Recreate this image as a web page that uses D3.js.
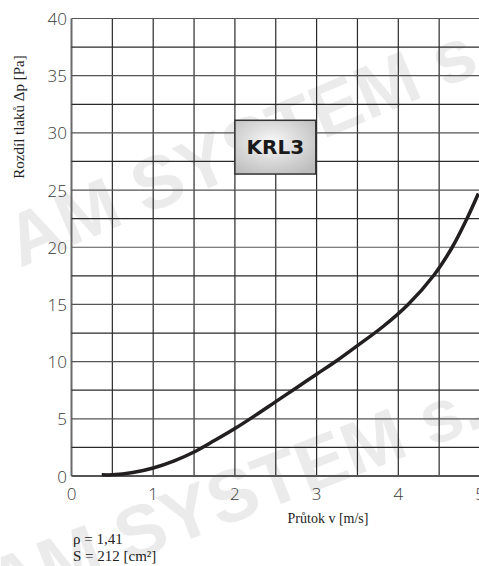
<!DOCTYPE html>
<html>
<head>
<meta charset="utf-8">
<script src="https://cdn.jsdelivr.net/npm/d3@7"></script>
<style>
    html, body { margin: 0; padding: 0; background: #fff; }
    svg { display: block; }
</style>
</head>
<body>
<div id="chart"></div>
<script>
// flow velocity [m/s] and pressure drop [Pa]
var velocity = [0.37, 0.5, 0.75, 1.0, 1.25, 1.5, 1.75, 2.0, 2.25, 2.5, 2.75, 3.0, 3.25, 3.5, 3.81, 4.12, 4.44, 4.66, 4.84, 4.98];
var pressure = [0.1, 0.1, 0.3, 0.7, 1.3, 2.1, 3.1, 4.15, 5.3, 6.5, 7.7, 8.9, 10.1, 11.4, 13.05, 15.0, 17.6, 20.0, 22.5, 24.7];
var xTicks = [0, 1, 2, 3, 4, 5];
var yTicks = [0, 5, 10, 15, 20, 25, 30, 35, 40];
var xGrid = [0, 0.5, 1, 1.5, 2, 2.5, 3, 3.5, 4, 4.5, 5];
var yGrid = [0, 2.5, 5, 7.5, 10, 12.5, 15, 17.5, 20, 22.5, 25, 27.5, 30, 32.5, 35, 37.5, 40];
var productName = 'KRL3';
var notes = ['ρ = 1,41', 'S = 212 [cm²]'];

var width = 479,
    height = 566,
    margin = { left: 71.5, top: 18.5, right: 0, bottom: 90 };

var svg = d3.select('#chart').append('svg')
    .attr('width', width)
    .attr('height', height);

var x = d3.scaleLinear().domain([0, 5]).range([margin.left, 480]);
var y = d3.scaleLinear().domain([0, 40]).range([476, margin.top]);

// watermark behind everything
var wm = svg.append('g')
    .style('font-family', 'Liberation Sans, Arial, sans-serif')
    .style('font-weight', 'bold')
    .style('font-size', '74px')
    .attr('fill', '#ebebeb');
wm.append('text')
    .attr('transform', 'translate(20,268) rotate(-23)')
    .text('AM SYSTEM s.');
wm.append('text')
    .attr('transform', 'translate(0,612) rotate(-21)')
    .text('AM SYSTEM s.');

// grid
var grid = svg.append('g').attr('stroke', '#2a2a2a').attr('stroke-width', 1.2);
grid.selectAll('line.v').data(xGrid).enter().append('line')
    .attr('class', 'v')
    .attr('x1', function (d) { return x(d); })
    .attr('x2', function (d) { return x(d); })
    .attr('y1', y(40))
    .attr('y2', y(0))
    .attr('stroke', function (d) { return d === 0 ? '#6a6a6a' : null; })
    .attr('stroke-width', function (d) { return d === 0 ? 2 : null; });
grid.selectAll('line.h').data(yGrid).enter().append('line')
    .attr('class', 'h')
    .attr('x1', x(0))
    .attr('x2', x(5))
    .attr('y1', function (d) { return y(d); })
    .attr('y2', function (d) { return y(d); })
    .attr('stroke', function (d) { return d % 5 === 0 ? '#555' : null; })
    .attr('stroke-width', function (d) { return d === 0 ? 2 : null; });

// tick labels
var tickFont = 'Open Sans, Lato, DejaVu Sans, sans-serif';
svg.append('g').selectAll('text').data(yTicks).enter().append('text')
    .attr('x', 67)
    .attr('y', function (d) { return y(d) + 6.5; })
    .attr('text-anchor', 'end')
    .style('font-family', tickFont)
    .style('font-weight', 300)
    .style('font-size', '17px')
    .attr('fill', '#3a3a3a')
    .text(function (d) { return d; });
svg.append('g').selectAll('text').data(xTicks).enter().append('text')
    .attr('x', function (d) { return x(d); })
    .attr('y', 500)
    .attr('text-anchor', 'middle')
    .style('font-family', tickFont)
    .style('font-weight', 300)
    .style('font-size', '17px')
    .attr('fill', '#3a3a3a')
    .text(function (d) { return d; });

// curve
var line = d3.line()
    .x(function (d, i) { return x(velocity[i]); })
    .y(function (d) { return y(d); })
    .curve(d3.curveCatmullRom.alpha(0.5));
svg.append('path')
    .datum(pressure)
    .attr('d', line)
    .attr('fill', 'none')
    .attr('stroke', '#231f20')
    .attr('stroke-width', 3.5);

// product label box
var grad = svg.append('defs').append('radialGradient')
    .attr('id', 'boxGrad')
    .attr('cx', '45%').attr('cy', '40%').attr('r', '70%');
grad.append('stop').attr('offset', '0%').attr('stop-color', '#f8f8f8');
grad.append('stop').attr('offset', '100%').attr('stop-color', '#bcbcbc');

var bx0 = x(2.0), bx1 = x(2.99), by0 = y(31.1), by1 = y(26.4);
svg.append('rect')
    .attr('x', bx0)
    .attr('y', by0)
    .attr('width', bx1 - bx0)
    .attr('height', by1 - by0)
    .attr('fill', 'url(#boxGrad)')
    .attr('stroke', '#333')
    .attr('stroke-width', 1.5);
svg.append('text')
    .attr('x', (bx0 + bx1) / 2)
    .attr('y', (by0 + by1) / 2 + 7)
    .attr('text-anchor', 'middle')
    .style('font-family', 'DejaVu Sans, Liberation Sans, sans-serif')
    .style('font-weight', 'bold')
    .style('font-size', '20px')
    .attr('fill', '#1a1a1a')
    .text(productName);

// axis titles
var serif = 'Liberation Serif, Times New Roman, serif';
svg.append('text')
    .attr('transform', 'translate(24,117) rotate(-90)')
    .attr('text-anchor', 'middle')
    .style('font-family', serif)
    .style('font-size', '15px')
    .attr('fill', '#222')
    .text('Rozdíl tlaků Δp [Pa]');
svg.append('text')
    .attr('x', 328)
    .attr('y', 523)
    .attr('text-anchor', 'middle')
    .style('font-family', serif)
    .style('font-size', '14px')
    .attr('fill', '#222')
    .text('Průtok v [m/s]');

// notes under the chart
svg.append('g').selectAll('text').data(notes).enter().append('text')
    .attr('x', 73)
    .attr('y', function (d, i) { return 544 + i * 17; })
    .style('font-family', serif)
    .style('font-size', '15px')
    .attr('fill', '#222')
    .text(function (d) { return d; });
</script>
</body>
</html>
